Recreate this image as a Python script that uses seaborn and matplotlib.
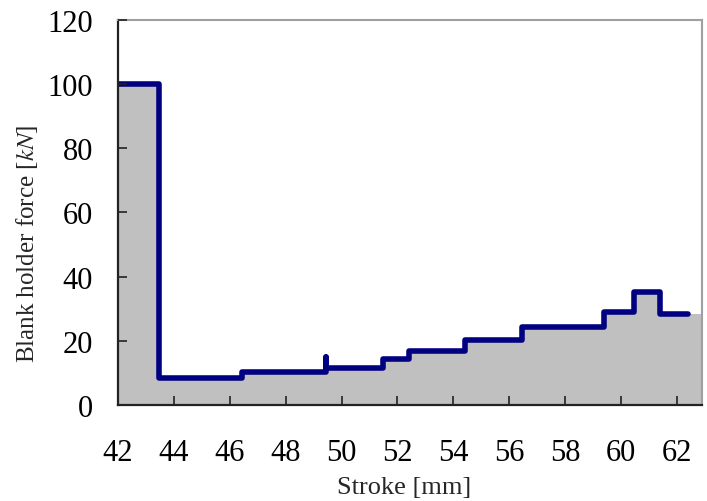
import numpy as np
import pandas as pd
import matplotlib
matplotlib.use("Agg")
import matplotlib.pyplot as plt
import seaborn as sns

# step edges (stroke, mm) and force levels (kN)
stroke = [42.0, 43.46, 46.45, 49.46, 49.46, 51.47, 52.42, 54.42, 56.45, 59.41, 60.45, 61.38, 62.4]
force = [100.0, 8.3, 10.2, 14.9, 11.4, 14.3, 16.9, 20.2, 24.2, 29.1, 35.3, 28.3, 28.3]
x_ticks = [42, 44, 46, 48, 50, 52, 54, 56, 58, 60, 62]
y_ticks = [0, 20, 40, 60, 80, 100, 120]
x_max = 62.9

sns.set_style("white")
plt.rcParams['font.family'] = ['Liberation Serif', 'DejaVu Serif']
plt.rcParams['mathtext.fontset'] = 'stix'

fig = plt.figure(figsize=(7.07, 5.02), dpi=100)
ax = fig.add_axes([0.1669, 0.1912, 0.826, 0.7674])
ax.set_axisbelow(False)  # ticks drawn over the gray area

df = pd.DataFrame({'Stroke': stroke, 'Force': force})

# gray area under the curve, running to the right edge
fill_x = stroke[:-1] + [x_max]
ax.fill_between(fill_x, force, step='post', color='#c0c0c0', linewidth=0)

sns.lineplot(data=df, x='Stroke', y='Force', estimator=None, sort=False,
             drawstyle='steps-post', color='#000080', linewidth=4.0,
             solid_capstyle='round', solid_joinstyle='round', ax=ax)

ax.set_xlim(42, x_max)
ax.set_ylim(0, 120)
ax.set_xticks(x_ticks)
ax.set_yticks(y_ticks)
ax.tick_params(axis='both', direction='in', length=6.5, width=1.2, color='#222222',
               labelsize=22, labelcolor='black', bottom=True, left=True)
ax.tick_params(axis='x', pad=24)
ax.tick_params(axis='y', pad=18)

for side in ['left', 'bottom']:
    ax.spines[side].set_color('#222222')
    ax.spines[side].set_linewidth(1.6)
for side in ['top', 'right']:
    ax.spines[side].set_color('#a0a0a0')
    ax.spines[side].set_linewidth(1.5)

ax.set_xlabel('Stroke [mm]', fontsize=19)
ax.set_ylabel(r'Blank holder force [$\mathit{kN}$]', fontsize=18)
ax.xaxis.label.set_verticalalignment('center')
ax.yaxis.label.set_verticalalignment('center')
ax.xaxis.set_label_coords(0.49, -0.212)
ax.yaxis.set_label_coords(-0.156, 0.422)

fig.savefig('out.png', dpi=100)
